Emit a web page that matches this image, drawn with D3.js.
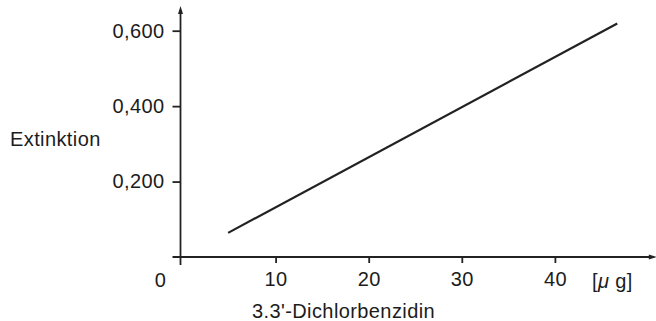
<!DOCTYPE html>
<html>
<head>
<meta charset="utf-8">
<script src="https://cdn.jsdelivr.net/npm/d3@7"></script>
<style>
  body { margin: 0; background: #fff; }
  text { font-family: "Liberation Sans", Arial, sans-serif; fill: #1c1c1c; letter-spacing: 0.4px; }
</style>
</head>
<body>
<div id="chart"></div>
<script>
// Data
var mass = [4.9, 46.7];          // 3.3'-Dichlorbenzidin [µg]
var extinction = [0.064, 0.619]; // Extinktion
var xTicks = [10, 20, 30, 40];
var yTicks = [0.2, 0.4, 0.6];

var svgWidth = 656;
var svgHeight = 321;
var fontSize = 20;

var svg = d3.select("#chart")
    .append("svg")
    .attr("width", svgWidth)
    .attr("height", svgHeight);

// scales
var xScale = d3.scaleLinear().domain([0, 50]).range([182.5, 648]);
var yScale = d3.scaleLinear().domain([0, 0.6]).range([257, 30.7]);

var x0 = xScale(0);
var y0 = yScale(0);

// y axis ticks and labels
var leftAxis = d3.axisLeft(yScale)
    .tickValues(yTicks)
    .tickSize(8)
    .tickPadding(8)
    .tickFormat(d => d3.format(".3f")(d).replace(".", ","));

var gy = svg.append("g")
    .attr("transform", `translate(${x0 - 2}, 0)`)
    .call(leftAxis);
gy.select(".domain").remove();
gy.selectAll("line").attr("stroke", "#222").attr("stroke-width", 1.8);
gy.selectAll("text").style("font-size", fontSize + "px").attr("fill", "#1c1c1c");

// x axis ticks and labels
var bottomAxis = d3.axisBottom(xScale)
    .tickValues(xTicks)
    .tickSize(6)
    .tickPadding(9);

var gx = svg.append("g")
    .attr("transform", `translate(0, ${y0})`)
    .call(bottomAxis);
gx.select(".domain").remove();
gx.selectAll("line").attr("stroke", "#222").attr("stroke-width", 1.8);
gx.selectAll("text").style("font-size", fontSize + "px").attr("fill", "#1c1c1c");

// axis lines with arrow heads
svg.append("line")
    .attr("x1", x0 - 2).attr("x2", x0 - 2)
    .attr("y1", y0 + 8).attr("y2", yScale(0.655))
    .attr("stroke", "#222").attr("stroke-width", 1.8);

svg.append("path")
    .attr("d", `M${x0 - 2},${yScale(0.655) - 4} l-2.5,8 l5,0 z`)
    .attr("fill", "#222");

svg.append("line")
    .attr("x1", x0 - 10).attr("x2", xScale(50.3))
    .attr("y1", y0).attr("y2", y0)
    .attr("stroke", "#222").attr("stroke-width", 1.8);

svg.append("path")
    .attr("d", `M${xScale(50.3) + 6},${y0} l-8,-2.5 l0,5 z`)
    .attr("fill", "#222");

// the calibration line
var line = d3.line()
    .x((d, i) => xScale(mass[i]))
    .y(d => yScale(d));

svg.append("path")
    .datum(extinction)
    .attr("d", line)
    .attr("fill", "none")
    .attr("stroke", "#222")
    .attr("stroke-width", 2.2);

// labels
svg.append("text")
    .attr("x", x0 - 22)
    .attr("y", y0 + 29.5)
    .attr("text-anchor", "middle")
    .style("font-size", fontSize + "px")
    .text("0");

svg.append("text")
    .attr("x", 10)
    .attr("y", 146)
    .style("font-size", fontSize + "px")
    .text("Extinktion");

svg.append("text")
    .attr("x", 252)
    .attr("y", 318)
    .style("font-size", fontSize + "px")
    .text("3.3'-Dichlorbenzidin");

var unit = svg.append("text")
    .attr("x", 592)
    .attr("y", 288)
    .style("font-size", fontSize + "px");
unit.append("tspan").text("[");
unit.append("tspan").style("font-style", "italic").text("μ");
unit.append("tspan").text(" g]");
</script>
</body>
</html>
